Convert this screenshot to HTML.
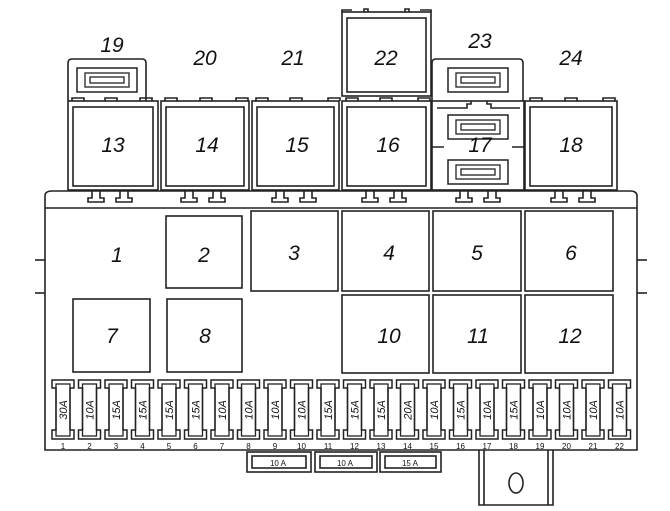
<!DOCTYPE html>
<html><head><style>
html,body{margin:0;padding:0;background:#fff;}
svg{display:block;}
text{font-family:"Liberation Sans",sans-serif;font-style:italic;fill:#111;}
.n{font-size:21px;text-anchor:middle;}
.f{font-size:11px;text-anchor:middle;}
.s{font-size:8px;text-anchor:middle;font-style:normal;}
</style></head><body>
<svg width="670" height="511" viewBox="0 0 670 511" xmlns="http://www.w3.org/2000/svg">
<defs>
<g id="fz">
<path d="M-11,380 h22 v8 h-4 v42 h4 v9 h-22 v-9 h4 v-42 h-4z" fill="none" stroke="#222" stroke-width="1.5"/>
<rect x="-7" y="384" width="14" height="52" fill="none" stroke="#222" stroke-width="1.3"/>
</g>
<g id="mf">
<rect x="-30" y="-12" width="60" height="24" fill="none" stroke="#222" stroke-width="1.5"/>
<rect x="-22" y="-7" width="44" height="14" fill="none" stroke="#222" stroke-width="1.3"/>
<rect x="-17" y="-3" width="34" height="6" fill="none" stroke="#222" stroke-width="1.3"/>
</g>
</defs>
<g fill="none" stroke="#222" stroke-width="1.6">
<!-- main body -->
<path d="M45,450 V196 Q45,191 52,191 H630 Q637,191 637,196 V450 Z"/>
<line x1="45" y1="208" x2="637" y2="208"/>
<line x1="35" y1="260" x2="45" y2="260"/><line x1="35" y1="293" x2="45" y2="293"/>
<line x1="637" y1="260" x2="647" y2="260"/><line x1="637" y1="293" x2="647" y2="293"/>
<!-- tabs -->
<path d="M92,191 v7 h-4 v4 h16 v-4 h-4 v-7 M120,191 v7 h-4 v4 h16 v-4 h-4 v-7"/>
<path d="M185,191 v7 h-4 v4 h16 v-4 h-4 v-7 M213,191 v7 h-4 v4 h16 v-4 h-4 v-7"/>
<path d="M276,191 v7 h-4 v4 h16 v-4 h-4 v-7 M304,191 v7 h-4 v4 h16 v-4 h-4 v-7"/>
<path d="M366,191 v7 h-4 v4 h16 v-4 h-4 v-7 M394,191 v7 h-4 v4 h16 v-4 h-4 v-7"/>
<path d="M460,191 v7 h-4 v4 h16 v-4 h-4 v-7 M488,191 v7 h-4 v4 h16 v-4 h-4 v-7"/>
<path d="M555,191 v7 h-4 v4 h16 v-4 h-4 v-7 M583,191 v7 h-4 v4 h16 v-4 h-4 v-7"/>
<!-- upper relays -->
<rect x="68" y="101" width="90" height="89"/><rect x="73" y="107" width="80" height="79"/>
<rect x="161" y="101" width="88" height="89"/><rect x="166" y="107" width="78" height="79"/>
<rect x="252" y="101" width="87" height="89"/><rect x="257" y="107" width="77" height="79"/>
<rect x="342" y="101" width="89" height="89"/><rect x="347" y="107" width="79" height="79"/>
<rect x="432" y="101" width="92" height="89"/>
<rect x="525" y="101" width="92" height="89"/><rect x="530" y="107" width="82" height="79"/>
<!-- tiny top tabs -->
<path d="M72,101 v-3 h12 v3 M105,101 v-3 h12 v3 M140,101 v-3 h12 v3 M165,101 v-3 h12 v3 M200,101 v-3 h12 v3 M236,101 v-3 h12 v3 M256,101 v-3 h12 v3 M290,101 v-3 h12 v3 M328,101 v-3 h12 v3 M346,101 v-3 h12 v3 M380,101 v-3 h12 v3 M418,101 v-3 h12 v3 M530,101 v-3 h12 v3 M565,101 v-3 h12 v3 M603,101 v-3 h12 v3"/>
<!-- 19 -->
<path d="M68,101 V63 Q68,59 72,59 H142 Q146,59 146,63 V101"/>
<!-- 22 -->
<rect x="342" y="12" width="89" height="84"/><rect x="347" y="18" width="79" height="74"/>
<path d="M342,12 v-2 h10 M420,10 h11 v2 M364,12 v-3 h4 v3 M405,12 v-3 h4 v3"/>
<!-- 23 -->
<path d="M432,101 V63 Q432,59 436,59 H519 Q523,59 523,63 V101"/>
<!-- 17 inner -->
<path d="M437,108 h30 v-4 h4 v-3 M487,101 v3 h4 v4 h29"/>
<path d="M432,147 h12 M512,147 h12"/>
</g>
<use href="#mf" transform="translate(107,80)"/>
<use href="#mf" transform="translate(478,80)"/>
<use href="#mf" transform="translate(478,127)"/>
<use href="#mf" transform="translate(478,172)"/>
<g fill="none" stroke="#222" stroke-width="1.6">
<!-- lower relays -->
<rect x="166" y="216" width="76" height="72"/>
<rect x="251" y="211" width="87" height="80"/>
<rect x="342" y="211" width="87" height="80"/>
<rect x="433" y="211" width="88" height="80"/>
<rect x="525" y="211" width="88" height="80"/>
<rect x="73" y="299" width="77" height="73"/>
<rect x="167" y="299" width="75" height="73"/>
<rect x="342" y="295" width="87" height="78"/>
<rect x="433" y="295" width="88" height="78"/>
<rect x="525" y="295" width="88" height="78"/>
<!-- bottom strip -->
<rect x="247" y="452" width="64" height="20"/><rect x="252" y="456" width="54" height="12"/>
<rect x="315" y="452" width="62" height="20"/><rect x="320" y="456" width="52" height="12"/>
<rect x="380" y="452" width="61" height="20"/><rect x="385" y="456" width="51" height="12"/>
<path d="M479,450 V505 H553 V450 M484,450 V505 M548,450 V505"/>
<ellipse cx="516" cy="483" rx="7" ry="10"/>
</g>
<text class="n" x="112" y="52">19</text>
<text class="n" x="205" y="65">20</text>
<text class="n" x="293" y="65">21</text>
<text class="n" x="386" y="65">22</text>
<text class="n" x="480" y="48">23</text>
<text class="n" x="571" y="65">24</text>
<text class="n" x="113" y="152">13</text>
<text class="n" x="207" y="152">14</text>
<text class="n" x="297" y="152">15</text>
<text class="n" x="388" y="152">16</text>
<text class="n" x="480" y="152">17</text>
<text class="n" x="571" y="152">18</text>
<text class="n" x="117" y="262">1</text>
<text class="n" x="204" y="262">2</text>
<text class="n" x="294" y="260">3</text>
<text class="n" x="389" y="260">4</text>
<text class="n" x="477" y="260">5</text>
<text class="n" x="571" y="260">6</text>
<text class="n" x="112" y="343">7</text>
<text class="n" x="205" y="343">8</text>
<text class="n" x="389" y="343">10</text>
<text class="n" x="478" y="343">11</text>
<text class="n" x="570" y="343">12</text>
<text class="s" x="278" y="466">10 A</text>
<text class="s" x="345" y="466">10 A</text>
<text class="s" x="410" y="466">15 A</text>
<!-- fuses -->
<g>
<use href="#fz" x="63"/><use href="#fz" x="89.5"/><use href="#fz" x="116"/><use href="#fz" x="142.5"/><use href="#fz" x="169"/><use href="#fz" x="195.5"/><use href="#fz" x="222"/><use href="#fz" x="248.5"/><use href="#fz" x="275"/><use href="#fz" x="301.5"/><use href="#fz" x="328"/><use href="#fz" x="354.5"/><use href="#fz" x="381"/><use href="#fz" x="407.5"/><use href="#fz" x="434"/><use href="#fz" x="460.5"/><use href="#fz" x="487"/><use href="#fz" x="513.5"/><use href="#fz" x="540"/><use href="#fz" x="566.5"/><use href="#fz" x="593"/><use href="#fz" x="619.5"/>
</g>
<g class="f">
<text class="f" transform="translate(67,410) rotate(-90)">30A</text>
<text class="f" transform="translate(93.5,410) rotate(-90)">10A</text>
<text class="f" transform="translate(120,410) rotate(-90)">15A</text>
<text class="f" transform="translate(146.5,410) rotate(-90)">15A</text>
<text class="f" transform="translate(173,410) rotate(-90)">15A</text>
<text class="f" transform="translate(199.5,410) rotate(-90)">15A</text>
<text class="f" transform="translate(226,410) rotate(-90)">10A</text>
<text class="f" transform="translate(252.5,410) rotate(-90)">10A</text>
<text class="f" transform="translate(279,410) rotate(-90)">10A</text>
<text class="f" transform="translate(305.5,410) rotate(-90)">10A</text>
<text class="f" transform="translate(332,410) rotate(-90)">15A</text>
<text class="f" transform="translate(358.5,410) rotate(-90)">15A</text>
<text class="f" transform="translate(385,410) rotate(-90)">15A</text>
<text class="f" transform="translate(411.5,410) rotate(-90)">20A</text>
<text class="f" transform="translate(438,410) rotate(-90)">10A</text>
<text class="f" transform="translate(464.5,410) rotate(-90)">15A</text>
<text class="f" transform="translate(491,410) rotate(-90)">10A</text>
<text class="f" transform="translate(517.5,410) rotate(-90)">15A</text>
<text class="f" transform="translate(544,410) rotate(-90)">10A</text>
<text class="f" transform="translate(570.5,410) rotate(-90)">10A</text>
<text class="f" transform="translate(597,410) rotate(-90)">10A</text>
<text class="f" transform="translate(623.5,410) rotate(-90)">10A</text>
</g>
<g>
<text class="s" x="63" y="449">1</text><text class="s" x="89.5" y="449">2</text><text class="s" x="116" y="449">3</text><text class="s" x="142.5" y="449">4</text><text class="s" x="169" y="449">5</text><text class="s" x="195.5" y="449">6</text><text class="s" x="222" y="449">7</text><text class="s" x="248.5" y="449">8</text><text class="s" x="275" y="449">9</text><text class="s" x="301.5" y="449">10</text><text class="s" x="328" y="449">11</text><text class="s" x="354.5" y="449">12</text><text class="s" x="381" y="449">13</text><text class="s" x="407.5" y="449">14</text><text class="s" x="434" y="449">15</text><text class="s" x="460.5" y="449">16</text><text class="s" x="487" y="449">17</text><text class="s" x="513.5" y="449">18</text><text class="s" x="540" y="449">19</text><text class="s" x="566.5" y="449">20</text><text class="s" x="593" y="449">21</text><text class="s" x="619.5" y="449">22</text>
</g>
</svg>
</body></html>
